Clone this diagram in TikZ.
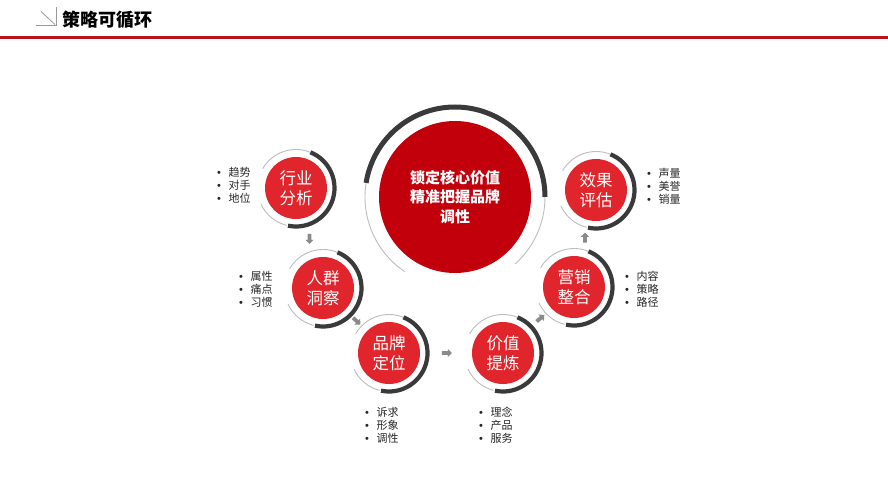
\documentclass[tikz,border=0pt]{standalone}
\usepackage{fontspec}
\newfontfamily\cjk{Noto Sans CJK SC}
\newfontfamily\latinf{Liberation Sans}
\usetikzlibrary{shapes.arrows,calc}
\definecolor{ringdark}{HTML}{3A3A3A}
\definecolor{ringthin}{HTML}{BDBDBD}
\definecolor{smallred}{HTML}{E0262C}
\definecolor{bigred}{HTML}{C2000C}
\definecolor{headred}{HTML}{B8141C}
\definecolor{arrowgray}{HTML}{8A8A8A}
\definecolor{icongray}{HTML}{9A9A9A}
\tikzset{
  smallcirc/.style={circle, fill=smallred, minimum size=62pt, inner sep=0pt,
    text=white, align=center, font=\cjk\fontsize{16.5}{20}\selectfont},
  bigcirc/.style={circle, fill=bigred, minimum size=152pt, inner sep=0pt,
    text=white, align=center, font=\cjk\bfseries\fontsize{15}{19.5}\selectfont},
  darkarc/.style={draw=ringdark, line width=4.2pt},
  bigdarkarc/.style={draw=ringdark, line width=5pt},
  thinarc/.style={draw=ringthin, line width=0.9pt},
  blist/.style={align=left, inner sep=0pt, anchor=west, text=black!85,
    font=\cjk\fontsize{11}{12.9}\selectfont},
  midarrow/.style={single arrow, fill=arrowgray, draw=none, inner sep=1.7pt,
    minimum height=10pt, single arrow head extend=2.3pt, single arrow head indent=0pt},
  titletext/.style={font=\cjk\bfseries\fontsize{18}{20}\selectfont, text=black, inner sep=0pt, anchor=west},
  iconline/.style={draw=icongray, line width=0.8pt}
}
\newcommand\ringedcircle[4]{%
  \node[smallcirc] (#1) at (#2,#3) {#4};
  \draw[darkarc] (#1.center) ++(-68:38.5) arc[start angle=-68, end angle=102, radius=38.5];
  \draw[thinarc] (#1.center) ++(-150:38.5) arc[start angle=-150, end angle=-68, radius=38.5];
  \draw[thinarc] (#1.center) ++(-256:38.5) arc[start angle=-256, end angle=-205, radius=38.5];
}
\newcommand\bl{{\latinf •}\hspace{7.5pt}}
\begin{document}
\begin{tikzpicture}[x=1pt,y=-1pt]
\useasboundingbox[fill=white] (0,0) rectangle (888,500);
% header
\draw[iconline] (36,25.5) -- (56.5,25.5) -- (56.5,7);
\draw[iconline] (41,11.5) -- (55,24.5);
\node[titletext] (title) at (62,20) {策略可循环};
\draw[headred, line width=3.6pt] (0,37.5) -- (888,37.5);
% central circle
\node[bigcirc] (core) at (455,197) {锁定核心价值\\精准把握品牌\\调性};
\draw[bigdarkarc] (core.center) ++(0:90) arc[start angle=0, end angle=-171, radius=90];
\draw[thinarc] (core.center) ++(-171:90) arc[start angle=-171, end angle=-236, radius=90];
\draw[thinarc] (core.center) ++(48:90) arc[start angle=48, end angle=0, radius=90];
% small circles
\ringedcircle{hy}{296}{188}{行业\\分析}
\ringedcircle{rq}{323}{288}{人群\\洞察}
\ringedcircle{pp}{389}{353}{品牌\\定位}
\ringedcircle{jz}{503}{353}{价值\\提炼}
\ringedcircle{yx}{574}{287}{营销\\整合}
\ringedcircle{xg}{596}{190}{效果\\评估}
% bullet lists
\node[blist] (lhy) at (217,185) {\bl 趋势\\\bl 对手\\\bl 地位};
\node[blist] (lrq) at (239,289) {\bl 属性\\\bl 痛点\\\bl 习惯};
\node[blist] (lpp) at (365,425) {\bl 诉求\\\bl 形象\\\bl 调性};
\node[blist] (ljz) at (479,425) {\bl 理念\\\bl 产品\\\bl 服务};
\node[blist] (lyx) at (625,289) {\bl 内容\\\bl 策略\\\bl 路径};
\node[blist] (lxg) at (647,186) {\bl 声量\\\bl 美誉\\\bl 销量};
% arrows between steps
\path (hy) -- node[midarrow, pos=0.5, rotate=-90] {} (rq);
\path (rq) -- node[midarrow, pos=0.5, rotate=-42] {} (pp);
\path (pp) -- node[midarrow, pos=0.5] {} (jz);
\path (jz) -- node[midarrow, pos=0.55, rotate=40] {} (yx);
\path (yx) -- node[midarrow, pos=0.5, rotate=90] {} (xg);
\end{tikzpicture}
\end{document}
